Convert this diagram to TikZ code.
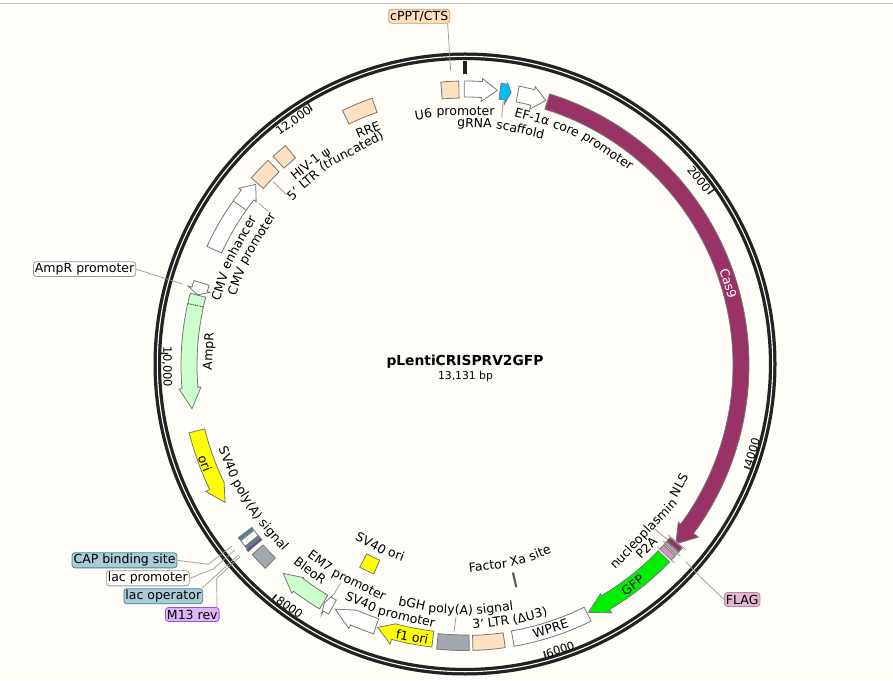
\documentclass[tikz,border=0pt]{standalone}
\usepackage{fontspec}
\setmainfont{DejaVu Sans}
\definecolor{paper}{HTML}{FFFDF7}
\definecolor{ringblack}{HTML}{222222}
\definecolor{edgegray}{HTML}{777777}
\definecolor{leadgray}{HTML}{999999}
\definecolor{casplum}{HTML}{993366}
\definecolor{peach}{HTML}{FFE0C0}
\definecolor{mint}{HTML}{CCFFCC}
\definecolor{polygray}{HTML}{A3A7AE}
\definecolor{sgreen}{HTML}{00EE00}
\definecolor{cyanblue}{HTML}{00BFFF}
\definecolor{oriyellow}{HTML}{FFFF00}
\definecolor{tealfill}{HTML}{A9CCD6}
\definecolor{tealedge}{HTML}{3F8A9E}
\definecolor{lilac}{HTML}{DCB6F7}
\definecolor{lilacedge}{HTML}{A050D0}
\definecolor{deeppurple}{HTML}{7030C0}
\definecolor{p2amauve}{HTML}{CC99BB}
\definecolor{flagpink}{HTML}{E0B8CF}
\definecolor{flagedge}{HTML}{C080A0}
\definecolor{peachedge}{HTML}{C89A60}
\newcommand{\labelfont}{\fontsize{12.5}{14}\selectfont}
\tikzset{
  feature/.style={draw=edgegray, line width=0.8pt, line join=miter},
  callout/.style={rounded corners=3pt, line width=0.8pt, inner sep=1.5pt, minimum height=14pt, font=\labelfont, text=black},
  leader/.style={draw=leadgray, line width=0.7pt},
  ticklabel/.style={font=\fontsize{11.5}{13}\selectfont, text=black, inner sep=0pt},
  onband/.style={font=\labelfont, inner sep=0pt},
  maptick/.style={draw=ringblack, line width=1.5pt},
  arcword/.style={font=\labelfont, inner sep=0pt, anchor=base}
}
% band between two radii, angles clockwise from the top
\newcommand{\mapbox}[5]{
  \draw[feature, #1] (90-#2:#4) arc[start angle=90-#2, end angle=90-#3, radius=#4]
    -- (90-#3:#5) arc[start angle=90-#3, end angle=90-#2, radius=#5] -- cycle;
}
% style, tail, head base, tip, head inner, head outer
\newcommand{\maparrow}[6]{
  \draw[feature, #1] (90-#2:268) arc[start angle=90-#2, end angle=90-#3, radius=268]
    -- (90-#3:#5) -- (90-#4:276.5) -- (90-#3:#6) -- (90-#3:284)
    arc[start angle=90-#3, end angle=90-#2, radius=284] -- cycle;
}
% words of a label bent round the circle: 1 tops outward, -1 tops inward
\newlength{\wordlen}
\newlength{\linelen}
\newlength{\walklen}
\makeatletter
\newcommand{\lenval}[1]{\strip@pt#1}
\makeatother
\newcommand{\measureword}[1]{\settowidth{\wordlen}{\pgfinterruptpicture\labelfont#1\endpgfinterruptpicture}}
\newcommand{\arcwords}[5]{
  \global\linelen=-4pt
  \foreach \word in {#5}{
    \measureword{\word}
    \global\advance\linelen by \wordlen
    \global\advance\linelen by 4pt
  }
  \global\walklen=-0.5\linelen
  \foreach \word [count=\wi] in {#5}{
    \measureword{\word}
    \pgfmathsetmacro{\wordang}{#3+#1*(\lenval{\walklen}+0.5*\lenval{\wordlen})/#4*57.2958}
    \pgfmathsetmacro{\wordrot}{90-#1*90-\wordang}
    \node[arcword, rotate=\wordrot] (#2-\wi) at (90-\wordang:#4) {\word};
    \global\advance\walklen by \wordlen
    \global\advance\walklen by 4pt
  }
}
\begin{document}
\begin{tikzpicture}[x=1pt, y=1pt]
\useasboundingbox (0,0) rectangle (893,680);
\fill[paper] (0,0) rectangle (893,680);
\fill[white] (0,677) rectangle (893,680);
\draw[draw=black!25, line width=0.8pt] (0,677) -- (893,677);

% callouts
\node[callout, draw=peachedge, fill=peach] (cppt) at (419.2,663.7) {cPPT/CTS};
\node[callout, draw=black!40, fill=white] (amprprom) at (84.6,410.9) {AmpR promoter};
\node[callout, draw=tealedge, fill=tealfill] (capsite) at (124.5,119.7) {CAP binding site};
\node[callout, draw=black!40, fill=white] (lacprom) at (147.8,101.7) {lac promoter};
\node[callout, draw=tealedge, fill=tealfill] (lacop) at (163.3,83.8) {lac operator};
\node[callout, draw=lilacedge, fill=lilac] (mrev) at (192.3,65.5) {M13 rev};
\node[callout, draw=flagedge, fill=flagpink] (flag) at (742.2,80.5) {FLAG};

\begin{scope}[shift={(465,315)}]
% ring and ticks
\draw[ringblack, line width=7.6pt] (0,1) circle (307.7);
\draw[white, line width=1.1pt] (0,1) circle (307.7);
\draw[ringblack, line width=3.5pt] (0,291) -- (0,304);
\foreach \tickang in {54.83,110,164.6,219.4,272.2,329.0}
  \draw[maptick] (90-\tickang:297) -- (90-\tickang:305);
\node[ticklabel, rotate=-51.5] (tick2) at (90-51.5:299) {2000};
\node[ticklabel, rotate=73.1] (tick4) at (90-106.9:300) {4000};
\node[ticklabel, rotate=18.5] (tick6) at (90-161.5:300) {6000};
\node[ticklabel, rotate=-35.9] (tick8) at (90-215.9:299) {8000};
\node[ticklabel, rotate=-89.6] (tick10) at (90-269.6:298) {10,000};
\node[ticklabel, rotate=35.1] (tick12) at (90-324.9:298) {12,000};

% features on the main track
\mapbox{fill=peach}{-4.9}{-1.26}{267}{284}
\maparrow{fill=white}{-0.15}{3.5}{6.7}{264}{287}
\maparrow{fill=cyanblue}{7.3}{8.6}{9.6}{264}{285}
\maparrow{fill=white}{11}{14.2}{17}{264}{287}
\maparrow{fill=casplum}{17.35}{126.4}{130.3}{265}{290}
\mapbox{fill=casplum}{130.1}{131.1}{268}{284}
\mapbox{fill=flagpink}{131.3}{131.9}{268}{284}
\mapbox{fill=p2amauve}{132.2}{133.4}{268}{284}
\maparrow{fill=sgreen}{133.9}{149.4}{153.5}{266}{288}
\mapbox{fill=white}{153.8}{170.1}{270}{285.5}
\mapbox{fill=peach}{171.9}{178.4}{270.5}{285.5}
\mapbox{fill=polygray}{179.15}{185.7}{270}{285.5}
\maparrow{fill=oriyellow}{186.7}{195}{198.4}{268}{289}
\maparrow{fill=white}{198.8}{203.8}{208}{268}{288}
\maparrow{fill=white}{208.7}{209.9}{210.6}{266}{288}
\maparrow{fill=mint}{210.8}{217.2}{221.1}{267}{286.5}
\mapbox{fill=polygray}{224.5}{228.3}{270.5}{285}
\mapbox{fill=deeppurple}{229.3}{229.8}{268}{286}
\mapbox{fill=tealedge}{229.9}{230.4}{268}{285}
\mapbox{fill=white}{230.5}{231.9}{268}{285}
\draw[black!60, dotted] (90-231.2:269) -- (90-231.2:284);
\mapbox{fill=tealedge}{232.1}{232.7}{268}{285}
\maparrow{fill=oriyellow}{256.2}{244}{240.2}{268}{288.5}
\maparrow{fill=mint}{284.65}{265.2}{260.9}{265}{287}
\draw[black, densely dotted, line width=0.8pt] (90-282.5:268.5) -- (90-282.5:283.5);
\maparrow{fill=white}{287.3}{285.9}{284.7}{265}{288}
\maparrow{fill=white}{294.7}{308}{310.8}{265}{287}
\draw[feature] (90-305.3:268) -- (90-305.3:284);
\mapbox{fill=peach}{311.2}{316.1}{268}{284}
\mapbox{fill=peach}{317.4}{320.7}{267.5}{283.5}
\mapbox{fill=peach}{334.3}{340.8}{267.5}{282.5}

% inner track
\mapbox{fill=oriyellow}{203.6}{207.5}{213}{228}
\draw[edgegray!80!black, line width=2.2pt] (90-167:213) -- (90-167:228);

% slivers by the P2A end
\draw[leader] (90-129.9:265) -- (90-129.9:288);
\draw[leader] (90-131.6:265) -- (90-131.6:288);
\draw[leader] (90-133.4:265) -- (90-133.4:288);

% text inside features
\node[onband, text=white, rotate=-72.8] (cas) at (90-72.8:275.7) {Cas9};
\node[onband, rotate=37.3] (gfp) at (90-142.7:276.6) {GFP};
\node[onband, rotate=18] (wpre) at (90-162:277) {WPRE};
\node[onband, rotate=-11] (fone) at (90-191:276.8) {f1 ori};
\node[onband, rotate=-69.3] (orilabel) at (90-249.3:278) {ori};

% labels
\arcwords{1}{usix}{-2.3}{249.5}{U6,promoter}
\arcwords{1}{grna}{8.6}{237.7}{gRNA,scaffold}
\arcwords{1}{efone}{25.7}{253}{EF-1α,core,promoter}
\arcwords{1}{rre}{-22.4}{250}{RRE}
\arcwords{1}{hiv}{-37.5}{250}{HIV-1,ψ}
\arcwords{1}{ltrfive}{-33}{238}{5',LTR,(truncated)}
\arcwords{1}{cmvenh}{-65.2}{253}{CMV,enhancer}
\arcwords{1}{cmvprom}{-62.5}{239}{CMV,promoter}
\arcwords{1}{ampr}{-87}{252.6}{AmpR}
\arcwords{-1}{nls}{130.2}{250}{nucleoplasmin,NLS}
\arcwords{-1}{ptwoa}{135.2}{262}{P2A}
\arcwords{-1}{factorxa}{167}{206.5}{Factor,Xa,site}
\arcwords{-1}{ltrthree}{170}{263.5}{3',LTR,(ΔU3)}
\arcwords{-1}{bgh}{182.2}{249}{bGH,poly(A),signal}
\arcwords{-1}{svprom}{197}{263}{SV40,promoter}
\arcwords{-1}{svori}{205}{206}{SV40,ori}
\arcwords{-1}{emseven}{209.3}{248}{EM7,promoter}
\arcwords{-1}{bleor}{217}{262}{BleoR}
\arcwords{-1}{svpoly}{237.8}{260}{SV40,poly(A),signal}
\end{scope}

% plasmid name
\node[font=\fontsize{13.8}{15}\selectfont\bfseries, inner sep=0pt] (plasmid) at (465,318) {pLentiCRISPRV2GFP};
\node[font=\fontsize{10.8}{12}\selectfont, inner sep=0pt] (plasmidlen) at (465.5,303) {13,131 bp};

% leader ends
\coordinate (cpptend) at (450.7,609);
\coordinate (ampend) at (182.3,396);
\coordinate (capbend) at (208.3,115.7);
\coordinate (capend) at (231.7,134);
\coordinate (lacbend) at (212.7,110.7);
\coordinate (lacend) at (235,130);
\coordinate (opbend) at (225,112.7);
\coordinate (opend) at (238.3,125);
\coordinate (mbend) at (216.7,101.7);
\coordinate (mend) at (240,123.3);
\coordinate (flagbend) at (698.3,105);
\coordinate (flagend) at (685.7,118.3);
\coordinate (nlsa) at (655,150.7);
\coordinate (nlsb) at (668,140);
\coordinate (bgha) at (456,63.3);
\coordinate (bghb) at (454,48.3);
\coordinate (grnaa) at (501.7,562.7);
\coordinate (grnab) at (503.3,579);
\coordinate (ltra) at (286.7,485);
\coordinate (ltrb) at (273.3,498.3);
\coordinate (cmva) at (268.3,468.3);
\coordinate (cmvb) at (259,476.7);
\coordinate (ema) at (340.7,96.7);
\coordinate (emb) at (333.3,85);

\draw[leader] ([xshift=-2.5pt]cppt.south east) -- (cpptend);
\draw[leader] (amprprom.east) -- (ampend);
\draw[leader] (capsite.east) -- (capbend) -- (capend);
\draw[leader] (lacprom.east) -- (lacbend) -- (lacend);
\draw[leader] ([xshift=-1pt]lacop.north east) -- (opbend) -- (opend);
\draw[leader] ([xshift=-2.5pt]mrev.north east) -- (mbend) -- (mend);
\draw[leader] (flag.west) -- (flagbend) -- (flagend);
\draw[leader] (nlsa) -- (nlsb);
\draw[leader] (bgha) -- (bghb);
\draw[leader] (grnaa) -- (grnab);
\draw[leader] (ltra) -- (ltrb);
\draw[leader] (cmva) -- (cmvb);
\draw[leader] (ema) -- (emb);
\end{tikzpicture}
\end{document}
